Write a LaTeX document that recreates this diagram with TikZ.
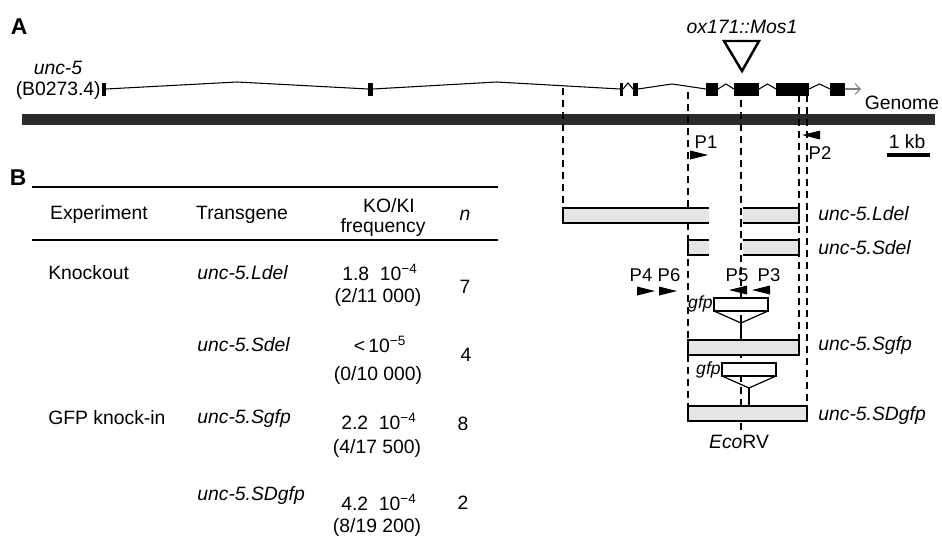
\documentclass[tikz,border=0pt]{standalone}
\usepackage{fontspec}
\setmainfont{Liberation Sans}
\usetikzlibrary{arrows.meta}
\definecolor{bargray}{gray}{0.9}
\definecolor{genomegray}{gray}{0.17}

\tikzset{
  lbl/.style={inner sep=0pt, font=\fontsize{11}{13}\selectfont},
  genelbl/.style={inner sep=0pt, font=\fontsize{11}{13}\selectfont\itshape},
  small/.style={inner sep=0pt, font=\fontsize{10.5}{12}\selectfont},
  panel/.style={inner sep=0pt, font=\fontsize{13}{15}\selectfont\bfseries},
  guide/.style={line width=0.6pt, dash pattern=on 4pt off 2.8pt},
  cons/.style={line width=0.7pt},
}

\begin{document}
\begin{tikzpicture}[x=0.02cm,y=-0.02cm]

\def\ytop{83};
\def\ybot{96};
\def\ymid{89};

\useasboundingbox (0,0) rectangle (942,544);

\node[panel] (A) at (19,27) {A};
\node[panel] (B) at (18,178) {B};

% gene model
\node[genelbl] (gene) at (58,68) {unc-5};
\node[lbl,anchor=east] (cosmid) at (101,90) {(B0273.4)};

\foreach \a/\b in {102/106,368/373,620/623,633/638,706/718,734/759,776/809,830/845}
{
\fill (\a,\ytop) rectangle (\b,\ybot);
}
\foreach \a/\b/\h in {106/368/82,373/620/82,623/633/83,638/706/84,718/734/84,759/776/84,809/830/84}
{
\draw [line width=0.6pt] (\a,\ymid) -- ({(\a+\b)/2},\h) -- (\b,\ymid);
}
\draw [gray,line width=0.6pt,-{Straight Barb[length=3pt,width=6pt]}] (845,\ymid) -- (861,\ymid);

\draw [line width=1.4pt,line join=miter] (724,41) -- (759,41) -- (742,71) -- cycle;
\node[genelbl] (mos) at (742,27) {ox171::Mos1};

\node[lbl] (genome) at (902,103) {Genome};
\fill [genomegray] (22,114) rectangle (935,125);

\draw [line width=2.4pt] (887,155) -- (930,155);
\node[lbl] (kb) at (907,142) {1 kb};

% dashed guides
\draw [guide] (563,88) -- (563,208);
\draw [guide] (688,92) -- (688,406);
\draw [guide] (741,100) -- (741,431);
\draw [guide] (799,95) -- (799,340);
\draw [guide] (807,95) -- (807,406);

% primers
\foreach \x/\y in {699/155,646/291,668/291}
{
\fill (\x-9,\y-4.5) -- (\x+9,\y) -- (\x-9,\y+4.5) -- cycle;
}
\foreach \x/\y in {811/135,738/290,761/290}
{
\fill (\x+9,\y-4.5) -- (\x-9,\y) -- (\x+9,\y+4.5) -- cycle;
}
\node[small] (P1) at (706,142) {P1};
\node[small] (P2) at (820,153) {P2};
\node[small] (P4) at (641,275) {P4};
\node[small] (P6) at (669,275) {P6};
\node[small] (P5) at (737,275) {P5};
\node[small] (P3) at (769,275) {P3};

% targeting constructs
\fill [bargray] (563,208) rectangle (709,223);
\draw [cons] (709,208) -- (563,208) -- (563,223) -- (709,223);
\fill [bargray] (743,208) rectangle (799,223);
\draw [cons] (743,208) -- (799,208) -- (799,223) -- (743,223);

\fill [bargray] (688,240) rectangle (709,255);
\draw [cons] (709,240) -- (688,240) -- (688,255) -- (709,255);
\fill [bargray] (743,240) rectangle (799,255);
\draw [cons] (743,240) -- (799,240) -- (799,255) -- (743,255);

\draw [cons,fill=white] (714,298) rectangle (768,311);
\draw [cons] (714,311) -- (741,323) -- (768,311);
\draw [cons] (741,323) -- (741,340);
\draw [cons,fill=bargray] (688,340) rectangle (799,355);

\draw [cons,fill=white] (722,363) rectangle (776,376);
\draw [cons] (722,376) -- (749,388) -- (776,376);
\draw [cons] (749,388) -- (749,406);
\draw [cons,fill=bargray] (688,406) rectangle (807,421);

\node[small,font=\fontsize{10}{12}\selectfont\itshape,anchor=east] (gfpS) at (713,304) {gfp};
\node[small,font=\fontsize{10}{12}\selectfont\itshape,anchor=east] (gfpSD) at (721,370) {gfp};
\node[lbl] (eco) at (739,442) {\textit{Eco}RV};

\node[genelbl,anchor=west] (cLdel) at (818,214) {unc-5.Ldel};
\node[genelbl,anchor=west] (cSdel) at (818,248) {unc-5.Sdel};
\node[genelbl,anchor=west] (cSgfp) at (818,345) {unc-5.Sgfp};
\node[genelbl,anchor=west] (cSDgfp) at (818,415) {unc-5.SDgfp};

% table
\draw [line width=0.7pt] (32,187) -- (498,187);
\draw [line width=0.7pt] (32,240) -- (498,240);

\node[lbl] (hExp) at (99,215) {Experiment};
\node[lbl] (hTg) at (242,215) {Transgene};
\node[lbl] (hKO) at (389,206) {KO/KI};
\node[lbl] (hFreq) at (383,228) {frequency};
\node[lbl] (hN) at (465,215) {\textit{n}};

\node[lbl,anchor=west] (rKO) at (48,273) {Knockout};
\node[lbl,anchor=west] (rGFP) at (48,418) {GFP knock-in};

\node[genelbl,anchor=west] (tLdel) at (197,273) {unc-5.Ldel};
\node[genelbl,anchor=west] (tSdel) at (197,345) {unc-5.Sdel};
\node[genelbl,anchor=west] (tSgfp) at (197,418) {unc-5.Sgfp};
\node[genelbl,anchor=west] (tSDgfp) at (197,495) {unc-5.SDgfp};

\node[lbl] (f1a) at (380,272) {1.8\hspace{0.55em}10\textsuperscript{−4}};
\node[lbl] (f1b) at (378,297) {(2/11 000)};
\node[lbl] (f2a) at (380,344) {<\,10\textsuperscript{−5}};
\node[lbl] (f2b) at (378,375) {(0/10 000)};
\node[lbl] (f3a) at (379,421) {2.2\hspace{0.55em}10\textsuperscript{−4}};
\node[lbl] (f3b) at (377,448) {(4/17 500)};
\node[lbl] (f4a) at (379,502) {4.2\hspace{0.55em}10\textsuperscript{−4}};
\node[lbl] (f4b) at (377,527) {(8/19 200)};

\node[lbl] (n1) at (465,287) {7};
\node[lbl] (n2) at (466,355) {4};
\node[lbl] (n3) at (463,424) {8};
\node[lbl] (n4) at (463,503) {2};

\end{tikzpicture}
\end{document}
